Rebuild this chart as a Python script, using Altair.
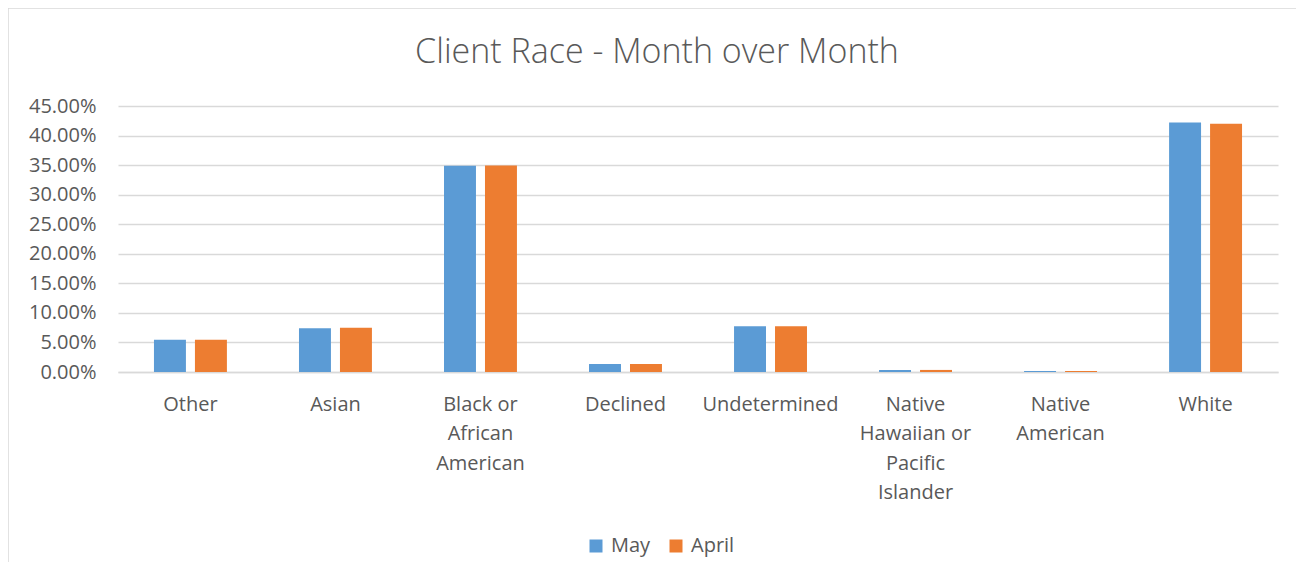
import altair as alt
import pandas as pd

CATEGORIES = ["Other", "Asian", "Black or African American", "Declined", "Undetermined",
              "Native Hawaiian or Pacific Islander", "Native American", "White"]
LABEL_LINES = [["Other"], ["Asian"], ["Black or", "African", "American"], ["Declined"],
               ["Undetermined"], ["Native", "Hawaiian or", "Pacific", "Islander"],
               ["Native", "American"], ["White"]]
SERIES = ["May", "April"]
MAY = [0.0546, 0.0742, 0.3490, 0.0135, 0.0776, 0.0035, 0.0016, 0.4222]
APRIL = [0.0546, 0.0747, 0.3495, 0.0135, 0.0774, 0.0035, 0.0016, 0.4200]
Y_TICKS = [0, 0.05, 0.10, 0.15, 0.20, 0.25, 0.30, 0.35, 0.40, 0.45]
COLORS = ["#5B9BD5", "#ED7D31"]

rows = []
for c, m, a in zip(CATEGORIES, MAY, APRIL):
    rows.append({"category": c, "series": "May", "value": m})
    rows.append({"category": c, "series": "April", "value": a})
df = pd.DataFrame(rows)

expr = ""
for c, lines in zip(CATEGORIES, LABEL_LINES):
    arr = "[" + ",".join("'" + l + "'" for l in lines) + "]"
    expr += f"datum.value == '{c}' ? {arr} : "
expr += "datum.label"

FONT = "Open Sans"
TXT = "#595959"

bars = alt.Chart(df).mark_bar().encode(
    x=alt.X("category:N", sort=CATEGORIES, title=None,
            scale=alt.Scale(paddingInner=0.497, paddingOuter=0.248),
            axis=alt.Axis(labelAngle=0, labelExpr=expr, labelLineHeight=29.5,
                          labelFontSize=20, labelColor=TXT, labelFont=FONT,
                          labelPadding=22, ticks=False, domainColor="#D9D9D9",
                          domainWidth=1.5, grid=False, labelBaseline="top")),
    xOffset=alt.XOffset("series:N", sort=SERIES,
                        scale=alt.Scale(domain=SERIES, paddingInner=0.22, paddingOuter=0)),
    y=alt.Y("value:Q", title=None,
            scale=alt.Scale(domain=[0, 0.45], nice=False),
            axis=alt.Axis(values=Y_TICKS, format=".2%", labelFontSize=20, labelColor=TXT,
                          labelFont=FONT, labelPadding=22, ticks=False, domain=False,
                          gridColor="#D9D9D9", gridWidth=1.5)),
    color=alt.Color("series:N", sort=SERIES,
                    scale=alt.Scale(domain=SERIES, range=COLORS),
                    legend=alt.Legend(title=None, orient="none", direction="horizontal",
                                      legendX=468, legendY=430, symbolType="square",
                                      symbolSize=169, symbolStrokeWidth=0,
                                      labelFontSize=20, labelFont=FONT, labelColor=TXT,
                                      labelOffset=5, columnPadding=15, padding=0)),
)

border = alt.Chart(pd.DataFrame({"k": [0]})).mark_rect(
    fillOpacity=0, stroke="#D9D9D9", strokeWidth=1.5, clip=False
).encode(x=alt.value(-110), x2=alt.value(1300), y=alt.value(-98), y2=alt.value(600))

chart = alt.layer(border, bars).properties(
    width=1160, height=266,
    title=alt.TitleParams("Client Race - Month over Month", fontSize=34, font=FONT,
                          fontWeight=300, color=TXT, anchor="middle", offset=0, dy=63,
                          dx=-41),
    padding={"left": 110, "top": 98, "right": 18, "bottom": 190},
    autosize=alt.AutoSizeParams(type="none"),
).configure_view(stroke=None)

chart.save("out.html", embed_options={"renderer": "svg", "actions": False})
